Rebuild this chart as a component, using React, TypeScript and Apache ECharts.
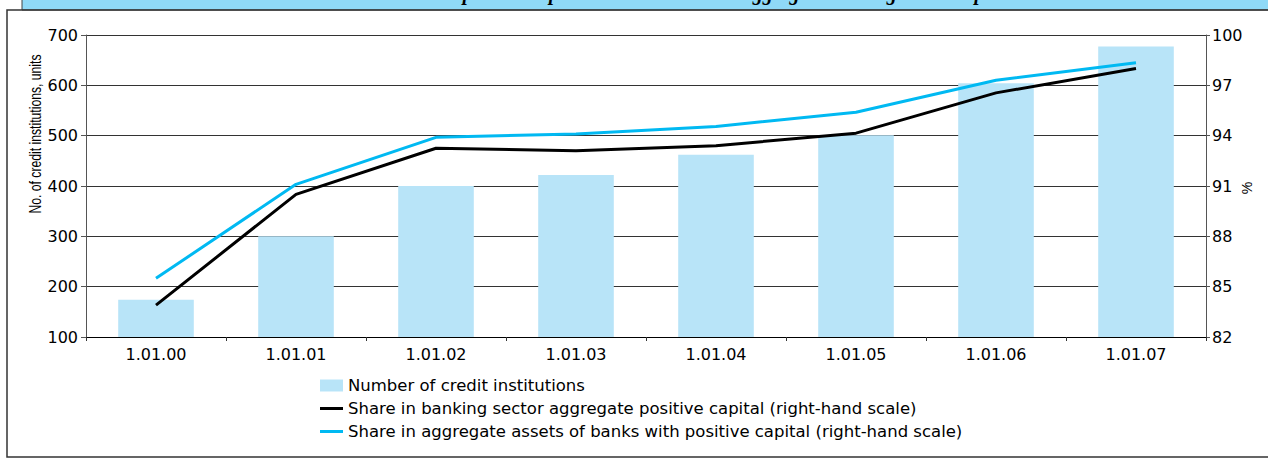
import React, { useEffect, useRef } from "react";
import * as echarts from "echarts";

const categories = ["1.01.00", "1.01.01", "1.01.02", "1.01.03", "1.01.04", "1.01.05", "1.01.06", "1.01.07"];
const institutions = [174, 300, 400, 422, 462, 501, 604, 677];
const shareCapital = [83.9, 90.5, 93.25, 93.1, 93.4, 94.15, 96.55, 98.0];
const shareAssets = [85.5, 91.1, 93.9, 94.1, 94.55, 95.4, 97.3, 98.35];

const leftTicks = { min: 100, max: 700, interval: 100 };
const rightTicks = { min: 82, max: 100, interval: 3 };

const seriesNames = [
  "Number of credit institutions",
  "Share in banking sector aggregate positive capital (right-hand scale)",
  "Share in aggregate assets of banks with positive capital (right-hand scale)",
];
const titleText = "Credit institutions with positive capital and their share in aggregate banking sector capital";
const leftAxisName = "No. of credit institutions, units";
const rightAxisName = "%";

const FONT = "DejaVu Sans";
const LINE_ICON = "path://M0,0H23V3H0Z";

export default function App() {
  const ref = useRef<HTMLDivElement>(null);
  useEffect(() => {
    document.body.style.margin = "0";
    const chart = echarts.init(ref.current!, null, { renderer: "svg" });
    chart.setOption({
      animation: false,
      backgroundColor: "#ffffff",
      grid: { left: 86, right: 62, top: 35, bottom: 123, containLabel: false },
      legend: {
        orient: "vertical",
        left: 320,
        top: 377,
        itemWidth: 23,
        itemHeight: 12,
        itemGap: 6,
        padding: 0,
        symbolKeepAspect: true,
        textStyle: { fontFamily: FONT, fontSize: 16.5, color: "#000" },
        data: [
          { name: seriesNames[0], icon: "rect" },
          { name: seriesNames[1], icon: LINE_ICON },
          { name: seriesNames[2], icon: LINE_ICON },
        ],
      },
      xAxis: {
        type: "category",
        data: categories,
        boundaryGap: true,
        axisLine: { lineStyle: { color: "#000", width: 1 } },
        axisTick: { show: true, length: 4, lineStyle: { color: "#333" } },
        axisLabel: { fontFamily: FONT, fontSize: 16, color: "#000", margin: 9 },
      },
      yAxis: [
        {
          type: "value",
          ...leftTicks,
          axisLine: { show: true, lineStyle: { color: "#555" } },
          axisTick: { show: true, length: 5, lineStyle: { color: "#555" } },
          axisLabel: { fontFamily: FONT, fontSize: 16, color: "#000", margin: 8 },
          splitLine: { show: true, lineStyle: { color: "#333", width: 1 } },
        },
        {
          type: "value",
          ...rightTicks,
          position: "right",
          axisLine: { show: true, lineStyle: { color: "#555" } },
          axisTick: { show: true, length: 4, lineStyle: { color: "#555" } },
          axisLabel: { fontFamily: FONT, fontSize: 16, color: "#000", margin: 6 },
          splitLine: { show: false },
        },
      ],
      series: [
        {
          name: seriesNames[0],
          type: "bar",
          yAxisIndex: 0,
          data: institutions,
          barWidth: "54%",
          itemStyle: { color: "#b8e4f8" },
        },
        {
          name: seriesNames[1],
          type: "line",
          yAxisIndex: 1,
          data: shareCapital,
          symbol: "none",
          lineStyle: { color: "#000", width: 3 },
          itemStyle: { color: "#000" },
        },
        {
          name: seriesNames[2],
          type: "line",
          yAxisIndex: 1,
          data: shareAssets,
          symbol: "none",
          lineStyle: { color: "#00b9f2", width: 3 },
          itemStyle: { color: "#00b9f2" },
        },
      ],
      graphic: [
        {
          type: "rect",
          shape: { x: 22, y: -5, width: 1260, height: 15 },
          style: { fill: "#8fd9f7", stroke: "#444", lineWidth: 1 },
          z: 1,
        },
        {
          type: "text",
          x: 640,
          y: 3,
          style: {
            text: titleText,
            font: "bold italic 20px 'Liberation Serif'",
            fill: "#000",
            align: "center",
            verticalAlign: "bottom",
          },
          z: 2,
        },
        {
          type: "rect",
          shape: { x: 7, y: 10, width: 1270, height: 447 },
          style: { fill: "none", stroke: "#333", lineWidth: 1.5 },
          z: 3,
        },
        {
          type: "text",
          x: 35,
          y: 134,
          rotation: Math.PI / 2,
          scaleY: 1.3,
          style: {
            text: leftAxisName,
            font: "12.2px 'Liberation Sans'",
            fill: "#000",
            align: "center",
            verticalAlign: "middle",
          },
        },
        {
          type: "text",
          x: 1247,
          y: 188,
          rotation: Math.PI / 2,
          style: {
            text: rightAxisName,
            font: "14px 'Liberation Sans'",
            fill: "#000",
            align: "center",
            verticalAlign: "middle",
          },
        },
      ],
    });
    return () => chart.dispose();
  }, []);
  return <div ref={ref} style={{ width: 1268, height: 460 }} />;
}
